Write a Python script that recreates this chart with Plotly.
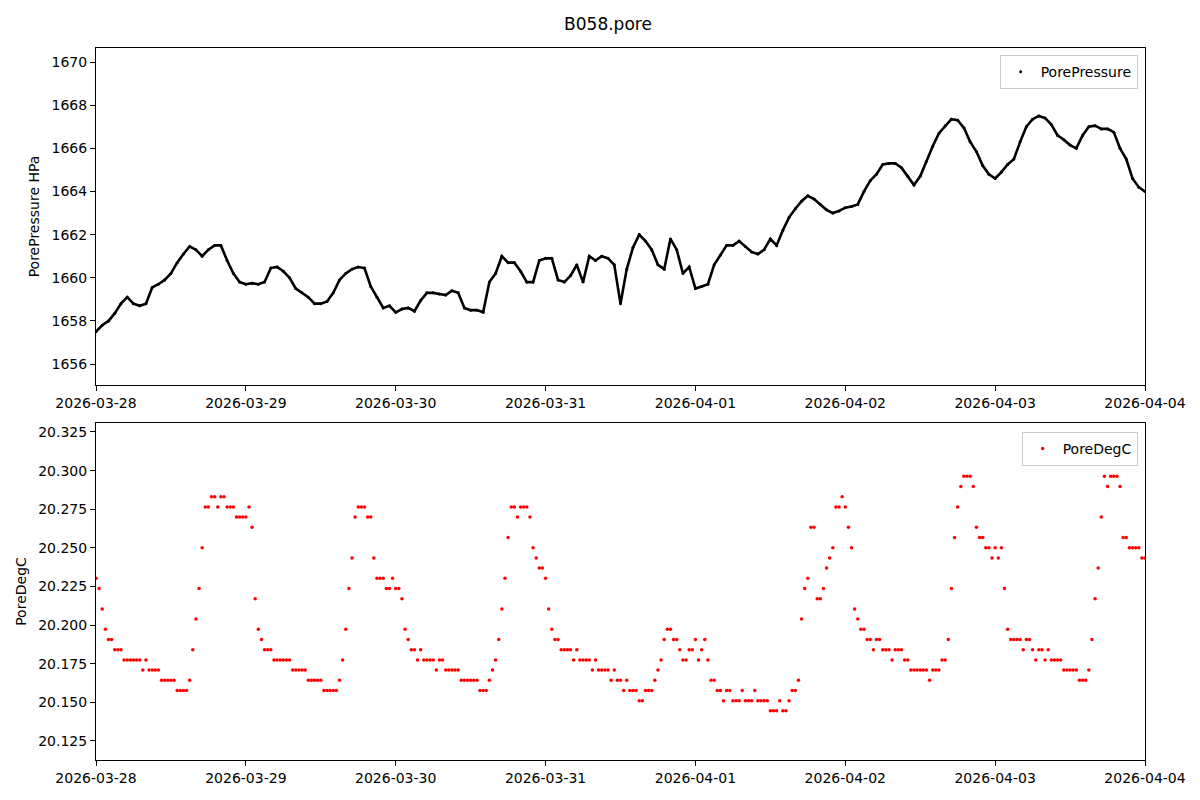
import pandas as pd
import plotly.graph_objects as go

# hourly pressure readings, 2026-03-28 00:00 .. 2026-04-04 00:00
pressure_times = pd.date_range("2026-03-28 00:00", "2026-04-04 00:00", freq="h")
# half-hourly temperature readings over the same span
degc_times = pd.date_range("2026-03-28 00:00", "2026-04-04 00:00", freq="30min")

pore_pressure = [
    1657.5, 1657.8, 1658.0, 1658.35, 1658.8, 1659.1, 1658.8, 1658.7, 1658.8, 1659.55,
    1659.7, 1659.9, 1660.2, 1660.7, 1661.1, 1661.45, 1661.3, 1661.0, 1661.3, 1661.5,
    1661.5, 1660.8, 1660.2, 1659.8, 1659.7, 1659.75, 1659.7, 1659.8, 1660.45, 1660.5,
    1660.3, 1660.0, 1659.5, 1659.3, 1659.1, 1658.8, 1658.8, 1658.9, 1659.3, 1659.9,
    1660.2, 1660.4, 1660.5, 1660.45, 1659.6, 1659.1, 1658.6, 1658.7, 1658.4, 1658.55,
    1658.6, 1658.45, 1658.95, 1659.3, 1659.3, 1659.25, 1659.2, 1659.4, 1659.3, 1658.6,
    1658.5, 1658.5, 1658.4, 1659.8, 1660.2, 1661.0, 1660.7, 1660.7, 1660.3, 1659.8,
    1659.8, 1660.8, 1660.9, 1660.9, 1659.9, 1659.8, 1660.1, 1660.6, 1659.8, 1661.0,
    1660.8, 1661.0, 1660.9, 1660.6, 1658.8, 1660.4, 1661.4, 1662.0, 1661.7, 1661.3,
    1660.6, 1660.4, 1661.8, 1661.3, 1660.2, 1660.5, 1659.5, 1659.6, 1659.7, 1660.6,
    1661.05, 1661.5, 1661.5, 1661.7, 1661.45, 1661.2, 1661.1, 1661.3, 1661.8, 1661.5,
    1662.2, 1662.8, 1663.2, 1663.55, 1663.8, 1663.65, 1663.4, 1663.15, 1663.0, 1663.1,
    1663.25, 1663.3, 1663.4, 1664.0, 1664.5, 1664.8, 1665.25, 1665.3, 1665.3, 1665.1,
    1664.7, 1664.3, 1664.7, 1665.4, 1666.1, 1666.7, 1667.05, 1667.35, 1667.3, 1666.95,
    1666.3, 1665.85, 1665.2, 1664.8, 1664.6, 1664.9, 1665.25, 1665.5, 1666.3, 1667.0,
    1667.35, 1667.5, 1667.4, 1667.1, 1666.6, 1666.4, 1666.15, 1666.0, 1666.6, 1667.0,
    1667.05, 1666.9, 1666.9, 1666.75, 1666.0, 1665.5, 1664.6, 1664.2, 1664.0,
]

pore_degc = [
    20.2303, 20.2237, 20.2105, 20.1973, 20.1907, 20.1907, 20.1841, 20.1841, 20.1841, 20.1775, 20.1775, 20.1775,
    20.1775, 20.1775, 20.1775, 20.1709, 20.1775, 20.1709, 20.1709, 20.1709, 20.1709, 20.1643, 20.1643, 20.1643,
    20.1643, 20.1643, 20.1577, 20.1577, 20.1577, 20.1577, 20.1643, 20.1841, 20.2039, 20.2237, 20.2501, 20.2765,
    20.2765, 20.2831, 20.2831, 20.2765, 20.2831, 20.2831, 20.2765, 20.2765, 20.2765, 20.2699, 20.2699, 20.2699,
    20.2699, 20.2765, 20.2633, 20.2171, 20.1973, 20.1907, 20.1841, 20.1841, 20.1841, 20.1775, 20.1775, 20.1775,
    20.1775, 20.1775, 20.1775, 20.1709, 20.1709, 20.1709, 20.1709, 20.1709, 20.1643, 20.1643, 20.1643, 20.1643,
    20.1643, 20.1577, 20.1577, 20.1577, 20.1577, 20.1577, 20.1643, 20.1775, 20.1973, 20.2237, 20.2435, 20.2699,
    20.2765, 20.2765, 20.2765, 20.2699, 20.2699, 20.2435, 20.2303, 20.2303, 20.2303, 20.2237, 20.2237, 20.2303,
    20.2237, 20.2237, 20.2171, 20.1973, 20.1907, 20.1841, 20.1841, 20.1775, 20.1841, 20.1775, 20.1775, 20.1775,
    20.1775, 20.1709, 20.1775, 20.1775, 20.1709, 20.1709, 20.1709, 20.1709, 20.1709, 20.1643, 20.1643, 20.1643,
    20.1643, 20.1643, 20.1643, 20.1577, 20.1577, 20.1577, 20.1643, 20.1709, 20.1775, 20.1907, 20.2105, 20.2303,
    20.2567, 20.2765, 20.2765, 20.2699, 20.2765, 20.2765, 20.2765, 20.2699, 20.2501, 20.2435, 20.2369, 20.2369,
    20.2303, 20.2105, 20.1973, 20.1907, 20.1907, 20.1841, 20.1841, 20.1841, 20.1841, 20.1775, 20.1841, 20.1775,
    20.1775, 20.1775, 20.1775, 20.1709, 20.1775, 20.1709, 20.1709, 20.1709, 20.1709, 20.1643, 20.1709, 20.1643,
    20.1643, 20.1577, 20.1643, 20.1577, 20.1577, 20.1577, 20.1511, 20.1511, 20.1577, 20.1577, 20.1577, 20.1643,
    20.1709, 20.1775, 20.1907, 20.1973, 20.1973, 20.1907, 20.1907, 20.1841, 20.1775, 20.1775, 20.1841, 20.1841,
    20.1907, 20.1775, 20.1841, 20.1907, 20.1775, 20.1643, 20.1643, 20.1577, 20.1577, 20.1511, 20.1577, 20.1577,
    20.1511, 20.1511, 20.1511, 20.1577, 20.1511, 20.1511, 20.1511, 20.1577, 20.1511, 20.1511, 20.1511, 20.1511,
    20.1445, 20.1445, 20.1445, 20.1511, 20.1445, 20.1445, 20.1511, 20.1577, 20.1577, 20.1643, 20.2039, 20.2237,
    20.2303, 20.2633, 20.2633, 20.2171, 20.2171, 20.2237, 20.2369, 20.2435, 20.2501, 20.2765, 20.2765, 20.2831,
    20.2765, 20.2633, 20.2501, 20.2105, 20.2039, 20.1973, 20.1973, 20.1907, 20.1907, 20.1841, 20.1907, 20.1907,
    20.1841, 20.1841, 20.1841, 20.1775, 20.1841, 20.1841, 20.1841, 20.1775, 20.1775, 20.1709, 20.1709, 20.1709,
    20.1709, 20.1709, 20.1709, 20.1643, 20.1709, 20.1709, 20.1709, 20.1775, 20.1775, 20.1907, 20.2237, 20.2567,
    20.2765, 20.2897, 20.2963, 20.2963, 20.2963, 20.2897, 20.2633, 20.2567, 20.2567, 20.2501, 20.2501, 20.2435,
    20.2501, 20.2435, 20.2501, 20.2237, 20.1973, 20.1907, 20.1907, 20.1907, 20.1907, 20.1841, 20.1907, 20.1907,
    20.1841, 20.1775, 20.1841, 20.1841, 20.1775, 20.1841, 20.1775, 20.1775, 20.1775, 20.1775, 20.1709, 20.1709,
    20.1709, 20.1709, 20.1709, 20.1643, 20.1643, 20.1643, 20.1709, 20.1907, 20.2171, 20.2369, 20.2699, 20.2963,
    20.2897, 20.2963, 20.2963, 20.2963, 20.2897, 20.2567, 20.2567, 20.2501, 20.2501, 20.2501, 20.2501, 20.2435,
    20.2435,
]

pressure_ticks = [1656, 1658, 1660, 1662, 1664, 1666, 1668, 1670]
degc_ticks = [20.125, 20.150, 20.175, 20.200, 20.225, 20.250, 20.275, 20.300, 20.325]
day_ticks = pd.date_range("2026-03-28", "2026-04-04", freq="D")

FONT = "DejaVu Sans"
FS = 14

fig = go.Figure()
fig.add_trace(go.Scatter(
    x=pressure_times, y=pore_pressure, mode="lines", line=dict(color="black", width=2.6),
    showlegend=False, hoverinfo="skip", xaxis="x", yaxis="y"))
fig.add_trace(go.Scatter(
    x=pressure_times, y=pore_pressure, mode="markers", name="PorePressure",
    marker=dict(color="black", size=3), xaxis="x", yaxis="y", legend="legend"))
fig.add_trace(go.Scatter(
    x=degc_times, y=pore_degc, mode="markers", name="PoreDegC",
    marker=dict(color="red", size=3.5), xaxis="x2", yaxis="y2", legend="legend2"))

axis_common = dict(
    showline=True, linecolor="black", linewidth=1, mirror=True,
    ticks="outside", ticklen=5, tickwidth=1, tickcolor="black",
    showgrid=False, zeroline=False,
    tickfont=dict(family=FONT, size=FS, color="black"),
)

xr = ["2026-03-28", "2026-04-04"]
fig.update_layout(
    width=1200, height=800,
    paper_bgcolor="white", plot_bgcolor="white",
    margin=dict(l=85, r=63, t=40, b=48),
    title=dict(text="B058.pore", x=0.5, xanchor="center", y=0.98, yanchor="middle",
               font=dict(family=FONT, size=17, color="black")),
    xaxis=dict(domain=[0, 1], range=xr, anchor="y", tickvals=day_ticks,
               tickformat="%Y-%m-%d", **axis_common),
    yaxis=dict(domain=[0.5267, 1.0], range=[1655.03, 1670.65], anchor="x",
               tickvals=pressure_ticks,
               title=dict(text="PorePressure HPa", font=dict(family=FONT, size=FS, color="black"), standoff=8),
               **axis_common),
    xaxis2=dict(domain=[0, 1], range=xr, anchor="y2", tickvals=day_ticks,
                tickformat="%Y-%m-%d", **axis_common),
    yaxis2=dict(domain=[0.0, 0.4733], range=[20.1127, 20.3308], anchor="x2",
                tickvals=degc_ticks, tickformat=".3f",
                title=dict(text="PoreDegC", font=dict(family=FONT, size=FS, color="black"), standoff=8),
                **axis_common),
    legend=dict(x=0.993, y=0.99, xanchor="right", yanchor="top",
                bgcolor="rgba(255,255,255,0.8)", bordercolor="#cccccc", borderwidth=1,
                font=dict(family=FONT, size=FS, color="black")),
    legend2=dict(x=0.993, y=0.4607, xanchor="right", yanchor="top",
                 bgcolor="rgba(255,255,255,0.8)", bordercolor="#cccccc", borderwidth=1,
                 font=dict(family=FONT, size=FS, color="black")),
    showlegend=True,
)

fig.write_html("out.html")
